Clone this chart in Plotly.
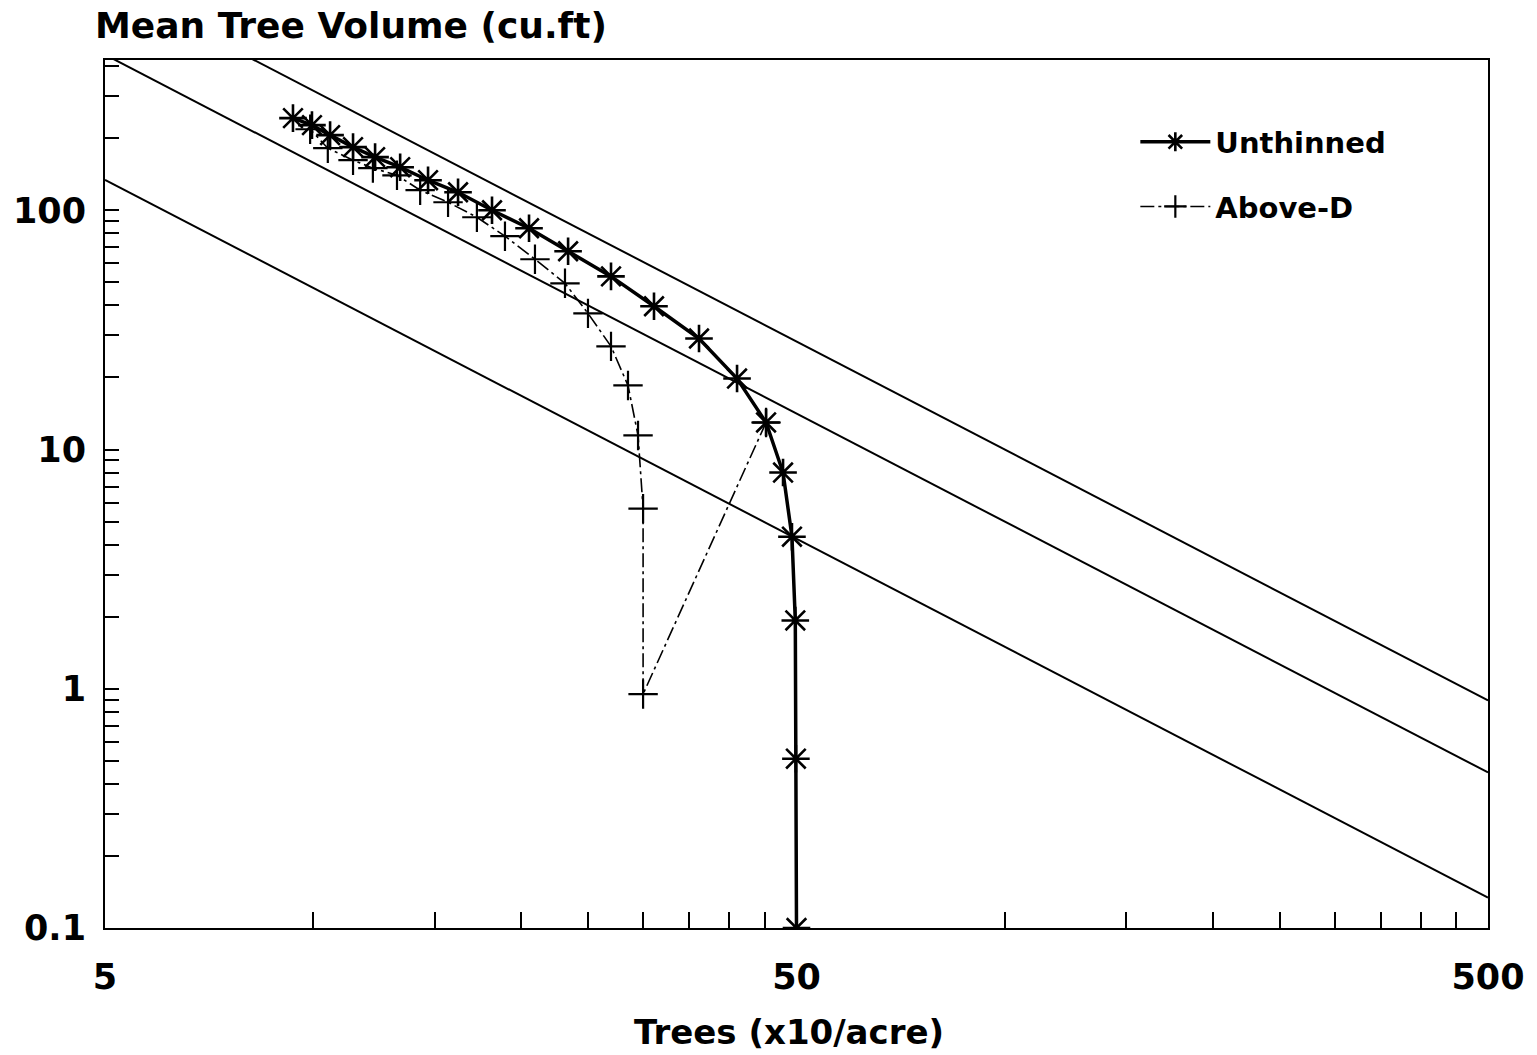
import plotly.graph_objects as go

# Stand density (x10 trees/acre) and mean tree volume (cu.ft) for the unthinned stand
unthinned_trees = [9.35, 9.96, 10.58, 11.42, 12.29, 13.36, 14.66, 16.20, 18.14, 20.52,
                   23.37, 26.96, 31.11, 36.14, 41.02, 45.18, 47.81, 49.25, 49.8, 49.9, 50.0]
unthinned_volume = [242.6, 226.9, 206.0, 183.5, 166.7, 151.3, 133.5, 118.9, 100.0, 84.1,
                    67.4, 52.9, 39.7, 29.1, 19.8, 12.97, 8.01, 4.32, 1.93, 0.51, 0.1]

# Thinning from above: starts at the thinning point on the unthinned path
above_d_trees = [45.18, 30.0, 30.0, 29.5, 28.53, 26.96, 24.97, 23.13, 20.93, 18.94,
                 17.25, 15.67, 14.28, 13.22, 12.2, 11.42, 10.5, 9.9]
above_d_volume = [12.97, 0.95, 5.66, 11.45, 18.52, 26.98, 37.07, 49.5, 62.4, 77.9,
                  93.5, 108.0, 121.3, 140.0, 150.0, 161.9, 181.7, 218.0]

# Self-thinning reference lines, end values at 5 and 500 trees
ref_trees = [5, 500]
ref_upper = [894.0, 0.894]
ref_middle = [447.0, 0.447]
ref_lower = [134.0, 0.134]

# Axis ticks
x_tickvals = [5, 10, 15, 20, 25, 30, 35, 40, 45, 50,
              100, 150, 200, 250, 300, 350, 400, 450, 500]
x_ticktext = ["5"] + [""] * 8 + ["50"] + [""] * 8 + ["500"]
y_tickvals = [0.1, 0.2, 0.3, 0.4, 0.5, 0.6, 0.7, 0.8, 0.9,
              1, 2, 3, 4, 5, 6, 7, 8, 9,
              10, 20, 30, 40, 50, 60, 70, 80, 90,
              100, 200, 300, 400]
y_ticktext = ["0.1"] + [""] * 8 + ["1"] + [""] * 8 + ["10"] + [""] * 8 + ["100"] + [""] * 3

FONT = "DejaVu Sans"
BLACK = "#000000"

fig = go.Figure()

for ys in (ref_upper, ref_middle, ref_lower):
    fig.add_trace(go.Scatter(
        x=ref_trees, y=ys, mode="lines",
        line=dict(color=BLACK, width=2),
        showlegend=False, hoverinfo="skip",
    ))

fig.add_trace(go.Scatter(
    x=above_d_trees, y=above_d_volume, mode="lines+markers",
    name="Above-D", legendgroup="b", legendrank=2,
    line=dict(color=BLACK, width=1.6, dash="14px,4px,3px,4px"),
    marker=dict(symbol="cross-thin-open", size=21,
                line=dict(color=BLACK, width=2.2)),
))

fig.add_trace(go.Scatter(
    x=unthinned_trees, y=unthinned_volume, mode="lines+markers",
    name="Unthinned", legendgroup="a", legendrank=1,
    line=dict(color=BLACK, width=3.5),
    marker=dict(symbol="asterisk-open", size=23,
                line=dict(color=BLACK, width=2.6)),
))

axis_common = dict(
    type="log",
    showgrid=False, zeroline=False,
    showline=True, linecolor=BLACK, linewidth=2, mirror=True,
    ticks="inside", tickcolor=BLACK, tickwidth=2,
    tickfont=dict(family=FONT, size=35, color=BLACK, weight="bold"),
)

fig.update_xaxes(
    **axis_common,
    range=[0.69897, 2.69897],
    tickmode="array", tickvals=x_tickvals, ticktext=x_ticktext,
    ticklen=16, ticklabelstandoff=17,
)
fig.update_yaxes(
    **axis_common,
    range=[-1, 2.628],
    tickmode="array", tickvals=y_tickvals, ticktext=y_ticktext,
    ticklen=14, ticklabelstandoff=10,
)

fig.add_annotation(
    text="Mean Tree Volume (cu.ft)", xref="paper", yref="paper",
    x=0, y=1, xanchor="left", yanchor="bottom", xshift=-12, yshift=12,
    showarrow=False,
    font=dict(family=FONT, size=36, color=BLACK, weight="bold"),
)
fig.add_annotation(
    text="Trees (x10/acre)", xref="paper", yref="paper",
    x=0.5, y=0, xanchor="center", yanchor="top", yshift=-82, xshift=-8,
    showarrow=False,
    font=dict(family=FONT, size=34, color=BLACK, weight="bold"),
)

fig.update_layout(
    width=1537, height=1055,
    margin=dict(l=105, r=49, t=60, b=127),
    paper_bgcolor="white", plot_bgcolor="white",
    showlegend=True,
    legend=dict(
        x=0.745, y=0.935, xanchor="left", yanchor="top",
        bgcolor="rgba(0,0,0,0)", borderwidth=0,
        traceorder="grouped", tracegroupgap=24,
        itemwidth=70,
        font=dict(family=FONT, size=29, color=BLACK, weight="bold"),
    ),
)

fig.write_html("out.html")
